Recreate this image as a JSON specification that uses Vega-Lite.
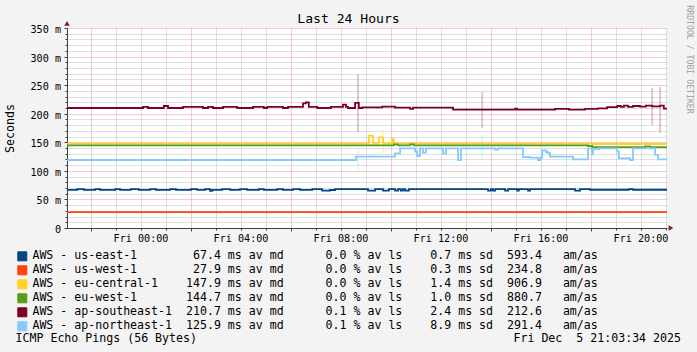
{
  "$schema": "https://vega.github.io/schema/vega-lite/v6.json",
  "width": 600,
  "height": 200,
  "autosize": {"type": "none"},
  "padding": {"left": 67, "top": 28, "right": 30, "bottom": 124},
  "background": "#f3f3f3",
  "title": {"text": "Last 24 Hours", "anchor": "middle", "frame": "group", "dx": -18.5, "offset": -31.8, "baseline": "alphabetic", "font": "DejaVu Sans Mono", "fontSize": 13.1, "fontWeight": "normal", "color": "#000000"},
  "config": {
    "view": {"stroke": null, "fill": "#ffffff"},
    "axis": {"labelFont": "DejaVu Sans Mono", "titleFont": "DejaVu Sans Mono", "labelColor": "#000000", "titleColor": "#000000", "titleFontWeight": "normal"}
  },
  "datasets": {
    "smoke": [
      {"s": "ap-southeast-1", "t": "2025-12-05T08:42Z", "lo": 168, "hi": 269},
      {"s": "ap-northeast-1", "t": "2025-12-05T08:42Z", "lo": 101, "hi": 136},
      {"s": "eu-central-1", "t": "2025-12-05T09:42Z", "lo": 131, "hi": 171},
      {"s": "ap-southeast-1", "t": "2025-12-05T13:40Z", "lo": 175, "hi": 238},
      {"s": "ap-northeast-1", "t": "2025-12-05T13:40Z", "lo": 119, "hi": 163},
      {"s": "ap-southeast-1", "t": "2025-12-05T20:28Z", "lo": 180, "hi": 245},
      {"s": "ap-southeast-1", "t": "2025-12-05T20:47Z", "lo": 166, "hi": 247}
    ],
    "series": [
      {"s": "us-east-1", "t": "2025-12-04T21:03:34Z", "v": 66.8},
      {"s": "us-east-1", "t": "2025-12-04T21:28Z", "v": 67.9},
      {"s": "us-east-1", "t": "2025-12-04T21:44Z", "v": 66.8},
      {"s": "us-east-1", "t": "2025-12-04T22:11Z", "v": 67.9},
      {"s": "us-east-1", "t": "2025-12-04T22:23Z", "v": 66.8},
      {"s": "us-east-1", "t": "2025-12-04T22:59Z", "v": 67.9},
      {"s": "us-east-1", "t": "2025-12-04T23:11Z", "v": 66.8},
      {"s": "us-east-1", "t": "2025-12-04T23:37Z", "v": 67.9},
      {"s": "us-east-1", "t": "2025-12-04T23:56Z", "v": 66.8},
      {"s": "us-east-1", "t": "2025-12-05T00:23Z", "v": 67.9},
      {"s": "us-east-1", "t": "2025-12-05T00:37Z", "v": 66.8},
      {"s": "us-east-1", "t": "2025-12-05T01:11Z", "v": 67.9},
      {"s": "us-east-1", "t": "2025-12-05T01:25Z", "v": 66.8},
      {"s": "us-east-1", "t": "2025-12-05T02:01Z", "v": 67.9},
      {"s": "us-east-1", "t": "2025-12-05T02:16Z", "v": 66.8},
      {"s": "us-east-1", "t": "2025-12-05T02:35Z", "v": 67.9},
      {"s": "us-east-1", "t": "2025-12-05T02:47Z", "v": 64.8},
      {"s": "us-east-1", "t": "2025-12-05T02:52Z", "v": 66.8},
      {"s": "us-east-1", "t": "2025-12-05T03:16Z", "v": 67.9},
      {"s": "us-east-1", "t": "2025-12-05T03:35Z", "v": 66.8},
      {"s": "us-east-1", "t": "2025-12-05T03:59Z", "v": 67.9},
      {"s": "us-east-1", "t": "2025-12-05T04:16Z", "v": 66.8},
      {"s": "us-east-1", "t": "2025-12-05T04:44Z", "v": 67.9},
      {"s": "us-east-1", "t": "2025-12-05T04:56Z", "v": 66.8},
      {"s": "us-east-1", "t": "2025-12-05T05:28Z", "v": 67.9},
      {"s": "us-east-1", "t": "2025-12-05T05:42Z", "v": 66.8},
      {"s": "us-east-1", "t": "2025-12-05T06:06Z", "v": 67.9},
      {"s": "us-east-1", "t": "2025-12-05T06:23Z", "v": 66.8},
      {"s": "us-east-1", "t": "2025-12-05T06:52Z", "v": 67.9},
      {"s": "us-east-1", "t": "2025-12-05T07:16Z", "v": 65.5},
      {"s": "us-east-1", "t": "2025-12-05T07:35Z", "v": 66.5},
      {"s": "us-east-1", "t": "2025-12-05T07:47Z", "v": 67.9},
      {"s": "us-east-1", "t": "2025-12-05T09:06Z", "v": 65.5},
      {"s": "us-east-1", "t": "2025-12-05T09:23Z", "v": 67.9},
      {"s": "us-east-1", "t": "2025-12-05T09:42Z", "v": 65.5},
      {"s": "us-east-1", "t": "2025-12-05T09:56Z", "v": 67.9},
      {"s": "us-east-1", "t": "2025-12-05T10:11Z", "v": 65.5},
      {"s": "us-east-1", "t": "2025-12-05T10:18Z", "v": 67.9},
      {"s": "us-east-1", "t": "2025-12-05T10:25Z", "v": 65.5},
      {"s": "us-east-1", "t": "2025-12-05T10:30Z", "v": 67.9},
      {"s": "us-east-1", "t": "2025-12-05T10:35Z", "v": 65.5},
      {"s": "us-east-1", "t": "2025-12-05T10:44Z", "v": 67.9},
      {"s": "us-east-1", "t": "2025-12-05T13:54Z", "v": 65.5},
      {"s": "us-east-1", "t": "2025-12-05T14:01Z", "v": 67.9},
      {"s": "us-east-1", "t": "2025-12-05T14:06Z", "v": 65.5},
      {"s": "us-east-1", "t": "2025-12-05T14:11Z", "v": 67.9},
      {"s": "us-east-1", "t": "2025-12-05T14:35Z", "v": 65.5},
      {"s": "us-east-1", "t": "2025-12-05T14:42Z", "v": 67.9},
      {"s": "us-east-1", "t": "2025-12-05T15:04Z", "v": 65.5},
      {"s": "us-east-1", "t": "2025-12-05T15:08Z", "v": 67.9},
      {"s": "us-east-1", "t": "2025-12-05T15:30Z", "v": 65.5},
      {"s": "us-east-1", "t": "2025-12-05T15:35Z", "v": 67.9},
      {"s": "us-east-1", "t": "2025-12-05T17:23Z", "v": 65.5},
      {"s": "us-east-1", "t": "2025-12-05T17:35Z", "v": 67.9},
      {"s": "us-east-1", "t": "2025-12-05T17:59Z", "v": 66.9},
      {"s": "us-east-1", "t": "2025-12-05T19:32Z", "v": 68.2},
      {"s": "us-east-1", "t": "2025-12-05T19:42Z", "v": 66.9},
      {"s": "us-east-1", "t": "2025-12-05T21:03:34Z", "v": 66.9},
      {"s": "us-west-1", "t": "2025-12-04T21:03:34Z", "v": 27.9},
      {"s": "us-west-1", "t": "2025-12-05T21:03:34Z", "v": 27.9},
      {"s": "eu-central-1", "t": "2025-12-04T21:03:34Z", "v": 147.5},
      {"s": "eu-central-1", "t": "2025-12-05T09:08Z", "v": 161.5},
      {"s": "eu-central-1", "t": "2025-12-05T09:18Z", "v": 147.5},
      {"s": "eu-central-1", "t": "2025-12-05T09:32Z", "v": 158.5},
      {"s": "eu-central-1", "t": "2025-12-05T09:42Z", "v": 147.5},
      {"s": "eu-central-1", "t": "2025-12-05T10:04Z", "v": 155.5},
      {"s": "eu-central-1", "t": "2025-12-05T10:08Z", "v": 147.5},
      {"s": "eu-central-1", "t": "2025-12-05T18:04Z", "v": 147},
      {"s": "eu-central-1", "t": "2025-12-05T21:03:34Z", "v": 147},
      {"s": "eu-west-1", "t": "2025-12-04T21:03:34Z", "v": 144.7},
      {"s": "eu-west-1", "t": "2025-12-05T10:08Z", "v": 146.5},
      {"s": "eu-west-1", "t": "2025-12-05T10:18Z", "v": 144.7},
      {"s": "eu-west-1", "t": "2025-12-05T10:47Z", "v": 146.5},
      {"s": "eu-west-1", "t": "2025-12-05T10:56Z", "v": 144.7},
      {"s": "eu-west-1", "t": "2025-12-05T17:54Z", "v": 143.5},
      {"s": "eu-west-1", "t": "2025-12-05T18:04Z", "v": 141.5},
      {"s": "eu-west-1", "t": "2025-12-05T20:11Z", "v": 143},
      {"s": "eu-west-1", "t": "2025-12-05T20:23Z", "v": 141.5},
      {"s": "eu-west-1", "t": "2025-12-05T21:03:34Z", "v": 141.5},
      {"s": "ap-southeast-1", "t": "2025-12-04T21:03:34Z", "v": 210},
      {"s": "ap-southeast-1", "t": "2025-12-05T00:06Z", "v": 212},
      {"s": "ap-southeast-1", "t": "2025-12-05T00:18Z", "v": 210},
      {"s": "ap-southeast-1", "t": "2025-12-05T00:56Z", "v": 213.5},
      {"s": "ap-southeast-1", "t": "2025-12-05T01:06Z", "v": 210},
      {"s": "ap-southeast-1", "t": "2025-12-05T01:42Z", "v": 212},
      {"s": "ap-southeast-1", "t": "2025-12-05T02:30Z", "v": 210},
      {"s": "ap-southeast-1", "t": "2025-12-05T02:42Z", "v": 212},
      {"s": "ap-southeast-1", "t": "2025-12-05T02:54Z", "v": 210},
      {"s": "ap-southeast-1", "t": "2025-12-05T03:18Z", "v": 212},
      {"s": "ap-southeast-1", "t": "2025-12-05T03:52Z", "v": 210},
      {"s": "ap-southeast-1", "t": "2025-12-05T04:30Z", "v": 212},
      {"s": "ap-southeast-1", "t": "2025-12-05T04:56Z", "v": 210},
      {"s": "ap-southeast-1", "t": "2025-12-05T05:04Z", "v": 212},
      {"s": "ap-southeast-1", "t": "2025-12-05T05:42Z", "v": 210},
      {"s": "ap-southeast-1", "t": "2025-12-05T05:54Z", "v": 212},
      {"s": "ap-southeast-1", "t": "2025-12-05T06:30Z", "v": 218},
      {"s": "ap-southeast-1", "t": "2025-12-05T06:37Z", "v": 220},
      {"s": "ap-southeast-1", "t": "2025-12-05T06:44Z", "v": 212},
      {"s": "ap-southeast-1", "t": "2025-12-05T07:04Z", "v": 210},
      {"s": "ap-southeast-1", "t": "2025-12-05T07:37Z", "v": 212},
      {"s": "ap-southeast-1", "t": "2025-12-05T08:06Z", "v": 216},
      {"s": "ap-southeast-1", "t": "2025-12-05T08:13Z", "v": 212},
      {"s": "ap-southeast-1", "t": "2025-12-05T08:18Z", "v": 210},
      {"s": "ap-southeast-1", "t": "2025-12-05T08:35Z", "v": 219},
      {"s": "ap-southeast-1", "t": "2025-12-05T08:44Z", "v": 210},
      {"s": "ap-southeast-1", "t": "2025-12-05T08:52Z", "v": 211},
      {"s": "ap-southeast-1", "t": "2025-12-05T09:40Z", "v": 212.5},
      {"s": "ap-southeast-1", "t": "2025-12-05T10:11Z", "v": 210.5},
      {"s": "ap-southeast-1", "t": "2025-12-05T10:47Z", "v": 208.5},
      {"s": "ap-southeast-1", "t": "2025-12-05T10:54Z", "v": 210.5},
      {"s": "ap-southeast-1", "t": "2025-12-05T12:30Z", "v": 207},
      {"s": "ap-southeast-1", "t": "2025-12-05T14:59Z", "v": 209},
      {"s": "ap-southeast-1", "t": "2025-12-05T15:04Z", "v": 207},
      {"s": "ap-southeast-1", "t": "2025-12-05T16:35Z", "v": 208.5},
      {"s": "ap-southeast-1", "t": "2025-12-05T17:08Z", "v": 207},
      {"s": "ap-southeast-1", "t": "2025-12-05T17:47Z", "v": 208.5},
      {"s": "ap-southeast-1", "t": "2025-12-05T18:18Z", "v": 209.5},
      {"s": "ap-southeast-1", "t": "2025-12-05T18:40Z", "v": 211.5},
      {"s": "ap-southeast-1", "t": "2025-12-05T19:04Z", "v": 213.5},
      {"s": "ap-southeast-1", "t": "2025-12-05T19:13Z", "v": 212},
      {"s": "ap-southeast-1", "t": "2025-12-05T19:20Z", "v": 214},
      {"s": "ap-southeast-1", "t": "2025-12-05T19:30Z", "v": 212},
      {"s": "ap-southeast-1", "t": "2025-12-05T19:42Z", "v": 213.5},
      {"s": "ap-southeast-1", "t": "2025-12-05T19:59Z", "v": 212.5},
      {"s": "ap-southeast-1", "t": "2025-12-05T20:13Z", "v": 214},
      {"s": "ap-southeast-1", "t": "2025-12-05T20:28Z", "v": 213},
      {"s": "ap-southeast-1", "t": "2025-12-05T20:47Z", "v": 214},
      {"s": "ap-southeast-1", "t": "2025-12-05T20:56Z", "v": 209},
      {"s": "ap-southeast-1", "t": "2025-12-05T21:03:34Z", "v": 209},
      {"s": "ap-northeast-1", "t": "2025-12-04T21:03:34Z", "v": 119},
      {"s": "ap-northeast-1", "t": "2025-12-05T08:37Z", "v": 125},
      {"s": "ap-northeast-1", "t": "2025-12-05T10:11Z", "v": 130.7},
      {"s": "ap-northeast-1", "t": "2025-12-05T10:23Z", "v": 139.4},
      {"s": "ap-northeast-1", "t": "2025-12-05T10:59Z", "v": 133.5},
      {"s": "ap-northeast-1", "t": "2025-12-05T11:04Z", "v": 126},
      {"s": "ap-northeast-1", "t": "2025-12-05T11:11Z", "v": 139.4},
      {"s": "ap-northeast-1", "t": "2025-12-05T11:18Z", "v": 132},
      {"s": "ap-northeast-1", "t": "2025-12-05T11:25Z", "v": 139.4},
      {"s": "ap-northeast-1", "t": "2025-12-05T12:06Z", "v": 130},
      {"s": "ap-northeast-1", "t": "2025-12-05T12:13Z", "v": 139.4},
      {"s": "ap-northeast-1", "t": "2025-12-05T12:42Z", "v": 119},
      {"s": "ap-northeast-1", "t": "2025-12-05T12:49Z", "v": 139.4},
      {"s": "ap-northeast-1", "t": "2025-12-05T14:11Z", "v": 137},
      {"s": "ap-northeast-1", "t": "2025-12-05T14:18Z", "v": 139.4},
      {"s": "ap-northeast-1", "t": "2025-12-05T15:18Z", "v": 124},
      {"s": "ap-northeast-1", "t": "2025-12-05T15:35Z", "v": 123},
      {"s": "ap-northeast-1", "t": "2025-12-05T15:54Z", "v": 119},
      {"s": "ap-northeast-1", "t": "2025-12-05T15:59Z", "v": 123},
      {"s": "ap-northeast-1", "t": "2025-12-05T16:04Z", "v": 136},
      {"s": "ap-northeast-1", "t": "2025-12-05T16:13Z", "v": 133},
      {"s": "ap-northeast-1", "t": "2025-12-05T16:18Z", "v": 131},
      {"s": "ap-northeast-1", "t": "2025-12-05T16:23Z", "v": 125},
      {"s": "ap-northeast-1", "t": "2025-12-05T17:18Z", "v": 120},
      {"s": "ap-northeast-1", "t": "2025-12-05T17:54Z", "v": 139},
      {"s": "ap-northeast-1", "t": "2025-12-05T18:04Z", "v": 129.5},
      {"s": "ap-northeast-1", "t": "2025-12-05T18:06Z", "v": 138},
      {"s": "ap-northeast-1", "t": "2025-12-05T18:20Z", "v": 139.4},
      {"s": "ap-northeast-1", "t": "2025-12-05T19:04Z", "v": 133.6},
      {"s": "ap-northeast-1", "t": "2025-12-05T19:08Z", "v": 122},
      {"s": "ap-northeast-1", "t": "2025-12-05T19:35Z", "v": 119},
      {"s": "ap-northeast-1", "t": "2025-12-05T19:42Z", "v": 139.4},
      {"s": "ap-northeast-1", "t": "2025-12-05T20:35Z", "v": 128},
      {"s": "ap-northeast-1", "t": "2025-12-05T20:42Z", "v": 120},
      {"s": "ap-northeast-1", "t": "2025-12-05T21:03:34Z", "v": 120}
    ]
  },
  "layer": [
    {
      "data": {"name": "smoke"},
      "mark": {"type": "rule", "strokeWidth": 2, "opacity": 0.22},
      "encoding": {
        "x": {"field": "t", "type": "temporal",
          "scale": {"type": "utc", "domain": [1764882214000, 1764968614000], "nice": false},
          "axis": {
            "orient": "bottom",
            "values": [1764885600000, 1764889200000, 1764892800000, 1764896400000, 1764900000000, 1764903600000, 1764907200000, 1764910800000, 1764914400000, 1764918000000, 1764921600000, 1764925200000, 1764928800000, 1764932400000, 1764936000000, 1764939600000, 1764943200000, 1764946800000, 1764950400000, 1764954000000, 1764957600000, 1764961200000, 1764964800000, 1764968400000],
            "grid": true,
            "gridColor": {"condition": {"test": "(utchours(datum.value) + 2) % 4 === 0", "value": "transparent"}, "value": "#8f8f8f"},
            "gridDash": [1, 1], "gridOpacity": 0.55, "gridWidth": 1,
            "domain": false, "ticks": true, "tickSize": 2, "tickColor": "#404040",
            "labelExpr": "utchours(datum.value) % 4 === 0 ? utcFormat(datum.value, '%a %H:%M') : ''",
            "labelFontSize": 10.15, "labelPadding": 11.4, "labelBaseline": "alphabetic", "labelAlign": "center", "labelFlush": false, "labelOverlap": false, "labelBound": false, "labelAngle": 0,
            "title": "ICMP Echo Pings (56 Bytes)", "titleX": -52, "titleY": 113.4, "titleAlign": "left", "titleAnchor": "start", "titleBaseline": "alphabetic", "titleFontSize": 11.6, "titleAngle": 0
          }
        },
        "y": {"field": "lo", "type": "quantitative",
          "scale": {"domain": [0, 350], "nice": false, "zero": false},
          "axis": {
            "orient": "left",
            "values": [0, 10, 20, 30, 40, 50, 60, 70, 80, 90, 100, 110, 120, 130, 140, 150, 160, 170, 180, 190, 200, 210, 220, 230, 240, 250, 260, 270, 280, 290, 300, 310, 320, 330, 340, 350],
            "grid": true,
            "gridColor": {"condition": {"test": "datum.value % 50 === 0", "value": "transparent"}, "value": "#8f8f8f"},
            "gridDash": [1, 1], "gridOpacity": 0.55, "gridWidth": 1,
            "domain": false, "ticks": true, "tickSize": 2, "tickColor": "#404040", "labels": false,
            "title": "Seconds", "titleX": -57, "titleY": 100, "titleAngle": 270, "titleAlign": "center", "titleAnchor": "middle", "titleBaseline": "middle", "titleFontSize": 11.6
          }
        },
        "y2": {"field": "hi"},
        "color": {"field": "s", "type": "nominal",
          "scale": {"domain": ["us-east-1", "us-west-1", "eu-central-1", "eu-west-1", "ap-southeast-1", "ap-northeast-1"], "range": ["#004586", "#ff420e", "#ffd320", "#579d1c", "#7e0021", "#83caff"]}
        }
      }
    },
    {
      "data": {"name": "series"},
      "mark": {"type": "line", "interpolate": "step-after", "strokeWidth": 1.8},
      "encoding": {
        "x": {"field": "t", "type": "temporal",
          "scale": {"type": "utc", "domain": [1764882214000, 1764968614000], "nice": false},
          "axis": {
            "orient": "bottom",
            "values": [1764885600000, 1764900000000, 1764914400000, 1764928800000, 1764943200000, 1764957600000],
            "grid": true, "gridColor": "#de4f4f", "gridOpacity": 0.6, "gridDash": [1, 1], "gridWidth": 1,
            "domain": true, "domainColor": "#404040", "domainWidth": 1,
            "ticks": true, "tickSize": 3, "tickColor": "#404040", "labels": false,
            "title": "Fri Dec\u00a0\u00a05 21:03:34 2025", "titleX": 613.5, "titleY": 113.4, "titleAlign": "right", "titleAnchor": "end", "titleBaseline": "alphabetic", "titleFontSize": 11.6, "titleAngle": 0
          }
        },
        "y": {"field": "v", "type": "quantitative",
          "scale": {"domain": [0, 350], "nice": false, "zero": false},
          "axis": {
            "orient": "left",
            "values": [0, 50, 100, 150, 200, 250, 300, 350],
            "grid": true, "gridColor": "#de4f4f", "gridOpacity": 0.6, "gridDash": [1, 1], "gridWidth": 1,
            "domain": true, "domainColor": "#404040", "domainWidth": 1,
            "ticks": true, "tickSize": 3, "tickColor": "#404040",
            "labelExpr": "datum.value === 0 ? '0\u00a0\u00a0' : datum.value + '\u00a0m'",
            "labelFontSize": 10.15, "labelPadding": 3.5, "labelBaseline": "alphabetic", "labelOffset": 4.5, "labelAlign": "right", "labelFlush": false, "labelOverlap": false, "labelBound": false,
            "title": "RRDTOOL / TOBI OETIKER", "titleX": 621, "titleY": 31, "titleAngle": 90, "titleAlign": "center", "titleAnchor": "middle", "titleBaseline": "middle", "titleFontSize": 8.2, "titleColor": "#a0a0a0"
          }
        },
        "color": {"field": "s", "type": "nominal",
          "scale": {"domain": ["us-east-1", "us-west-1", "eu-central-1", "eu-west-1", "ap-southeast-1", "ap-northeast-1"], "range": ["#004586", "#ff420e", "#ffd320", "#579d1c", "#7e0021", "#83caff"]},
          "legend": {
            "orient": "none", "legendX": -50.5, "legendY": 222.5, "direction": "vertical", "title": null,
            "padding": 0, "offset": 0,
            "labelFont": "DejaVu Sans Mono", "labelFontSize": 11.6, "labelColor": "#000000", "labelLimit": 800, "labelOffset": 4.3, "labelBaseline": "middle",
            "rowPadding": 0,
            "symbolType": "square", "symbolSize": 81, "symbolStrokeWidth": 1, "symbolStrokeColor": "#000000", "symbolOpacity": 1,
            "labelExpr": "datum.label === 'us-east-1' ? 'AWS\u00a0-\u00a0us-east-1\u00a0\u00a0\u00a0\u00a0\u00a0\u00a0\u00a0\u00a067.4\u00a0ms\u00a0av\u00a0md\u00a0\u00a0\u00a0\u00a0\u00a0\u00a00.0\u00a0%\u00a0av\u00a0ls\u00a0\u00a0\u00a0\u00a00.7\u00a0ms\u00a0sd\u00a0\u00a0593.4\u00a0\u00a0\u00a0am/as' : datum.label === 'us-west-1' ? 'AWS\u00a0-\u00a0us-west-1\u00a0\u00a0\u00a0\u00a0\u00a0\u00a0\u00a0\u00a027.9\u00a0ms\u00a0av\u00a0md\u00a0\u00a0\u00a0\u00a0\u00a0\u00a00.0\u00a0%\u00a0av\u00a0ls\u00a0\u00a0\u00a0\u00a00.3\u00a0ms\u00a0sd\u00a0\u00a0234.8\u00a0\u00a0\u00a0am/as' : datum.label === 'eu-central-1' ? 'AWS\u00a0-\u00a0eu-central-1\u00a0\u00a0\u00a0\u00a0147.9\u00a0ms\u00a0av\u00a0md\u00a0\u00a0\u00a0\u00a0\u00a0\u00a00.0\u00a0%\u00a0av\u00a0ls\u00a0\u00a0\u00a0\u00a01.4\u00a0ms\u00a0sd\u00a0\u00a0906.9\u00a0\u00a0\u00a0am/as' : datum.label === 'eu-west-1' ? 'AWS\u00a0-\u00a0eu-west-1\u00a0\u00a0\u00a0\u00a0\u00a0\u00a0\u00a0144.7\u00a0ms\u00a0av\u00a0md\u00a0\u00a0\u00a0\u00a0\u00a0\u00a00.0\u00a0%\u00a0av\u00a0ls\u00a0\u00a0\u00a0\u00a01.0\u00a0ms\u00a0sd\u00a0\u00a0880.7\u00a0\u00a0\u00a0am/as' : datum.label === 'ap-southeast-1' ? 'AWS\u00a0-\u00a0ap-southeast-1\u00a0\u00a0210.7\u00a0ms\u00a0av\u00a0md\u00a0\u00a0\u00a0\u00a0\u00a0\u00a00.1\u00a0%\u00a0av\u00a0ls\u00a0\u00a0\u00a0\u00a02.4\u00a0ms\u00a0sd\u00a0\u00a0212.6\u00a0\u00a0\u00a0am/as' : 'AWS\u00a0-\u00a0ap-northeast-1\u00a0\u00a0125.9\u00a0ms\u00a0av\u00a0md\u00a0\u00a0\u00a0\u00a0\u00a0\u00a00.1\u00a0%\u00a0av\u00a0ls\u00a0\u00a0\u00a0\u00a08.9\u00a0ms\u00a0sd\u00a0\u00a0291.4\u00a0\u00a0\u00a0am/as'",
            "encode": {"symbols": {"update": {"fill": {"scale": "color", "field": "value"}, "stroke": {"value": "#000000"}, "strokeWidth": {"value": 1}, "opacity": {"value": 1}, "fillOpacity": {"value": 1}, "strokeOpacity": {"value": 1}, "shape": {"value": "square"}, "strokeDash": {"value": []}}}}
          }
        }
      }
    },
    {
      "data": {"values": [{}]},
      "mark": {"type": "point", "shape": "triangle-up", "filled": true, "color": "#7f1f1f", "size": 30, "opacity": 1},
      "encoding": {
        "x": {"datum": {"year": 2025, "month": 12, "date": 4, "hours": 21, "minutes": 3, "seconds": 34, "utc": true}, "type": "temporal",
          "scale": {"type": "utc", "domain": [1764882214000, 1764968614000], "nice": false}, "axis": null},
        "y": {"datum": 358, "type": "quantitative", "scale": {"domain": [0, 350], "nice": false, "zero": false}, "axis": null}
      }
    },
    {
      "data": {"values": [{}]},
      "mark": {"type": "point", "shape": "triangle-right", "filled": true, "color": "#7f1f1f", "size": 30, "opacity": 1},
      "encoding": {
        "x": {"datum": {"year": 2025, "month": 12, "date": 5, "hours": 21, "minutes": 13, "seconds": 10, "utc": true}, "type": "temporal",
          "scale": {"type": "utc", "domain": [1764882214000, 1764968614000], "nice": false}, "axis": null},
        "y": {"datum": 0, "type": "quantitative", "scale": {"domain": [0, 350], "nice": false, "zero": false}, "axis": null}
      }
    }
  ],
  "resolve": {"axis": {"x": "independent", "y": "independent"}}
}
